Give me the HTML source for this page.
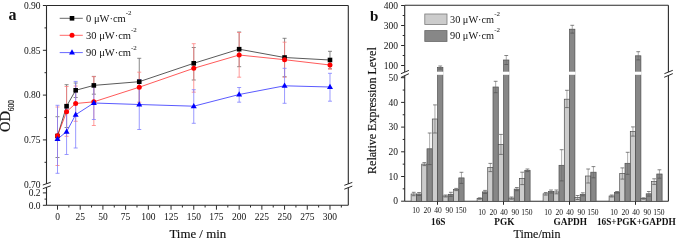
<!DOCTYPE html>
<html><head><meta charset="utf-8"><style>
html,body{margin:0;padding:0;background:#fff;}
body{width:676px;height:240px;overflow:hidden;}
svg{display:block;will-change:transform;}
text{font-family:"Liberation Serif", serif;fill:#111;}
.hv{stroke:#111;stroke-width:0.15px;}
</style></head><body>
<svg width="676" height="240" viewBox="0 0 676 240">
<rect width="676" height="240" fill="#fff"/>
<line x1="46.50" y1="5.50" x2="348.30" y2="5.50" stroke="#2a2a2a" stroke-width="1.1" />
<line x1="348.30" y1="5.50" x2="348.30" y2="183.90" stroke="#2a2a2a" stroke-width="1.1" />
<line x1="348.30" y1="187.60" x2="348.30" y2="205.30" stroke="#2a2a2a" stroke-width="1.1" />
<line x1="344.30" y1="185.30" x2="352.30" y2="182.40" stroke="#2a2a2a" stroke-width="1.0" />
<line x1="344.30" y1="189.20" x2="352.30" y2="186.10" stroke="#2a2a2a" stroke-width="1.0" />
<line x1="46.50" y1="205.30" x2="348.30" y2="205.30" stroke="#2a2a2a" stroke-width="1.1" />
<line x1="46.50" y1="5.50" x2="46.50" y2="183.90" stroke="#2a2a2a" stroke-width="1.1" />
<line x1="46.50" y1="187.40" x2="46.50" y2="205.30" stroke="#2a2a2a" stroke-width="1.1" />
<line x1="42.80" y1="185.00" x2="50.80" y2="182.25" stroke="#2a2a2a" stroke-width="1.0" />
<line x1="42.80" y1="188.70" x2="50.80" y2="185.80" stroke="#2a2a2a" stroke-width="1.0" />
<line x1="42.90" y1="5.50" x2="46.50" y2="5.50" stroke="#2a2a2a" stroke-width="1.0" />
<text x="40.60" y="8.70" font-size="9.5" text-anchor="end" font-weight="normal" >0.90</text>
<line x1="42.90" y1="50.30" x2="46.50" y2="50.30" stroke="#2a2a2a" stroke-width="1.0" />
<text x="40.60" y="53.50" font-size="9.5" text-anchor="end" font-weight="normal" >0.85</text>
<line x1="42.90" y1="95.10" x2="46.50" y2="95.10" stroke="#2a2a2a" stroke-width="1.0" />
<text x="40.60" y="98.30" font-size="9.5" text-anchor="end" font-weight="normal" >0.80</text>
<line x1="42.90" y1="139.90" x2="46.50" y2="139.90" stroke="#2a2a2a" stroke-width="1.0" />
<text x="40.60" y="143.10" font-size="9.5" text-anchor="end" font-weight="normal" >0.75</text>
<line x1="44.50" y1="27.90" x2="46.50" y2="27.90" stroke="#2a2a2a" stroke-width="1.0" />
<line x1="44.50" y1="72.70" x2="46.50" y2="72.70" stroke="#2a2a2a" stroke-width="1.0" />
<line x1="44.50" y1="117.50" x2="46.50" y2="117.50" stroke="#2a2a2a" stroke-width="1.0" />
<line x1="44.50" y1="162.30" x2="46.50" y2="162.30" stroke="#2a2a2a" stroke-width="1.0" />
<text x="40.60" y="187.60" font-size="9.5" text-anchor="end" font-weight="normal" >0.70</text>
<line x1="42.90" y1="205.30" x2="46.50" y2="205.30" stroke="#2a2a2a" stroke-width="1.0" />
<text x="40.60" y="208.50" font-size="9.5" text-anchor="end" font-weight="normal" >0.0</text>
<line x1="42.90" y1="192.90" x2="46.50" y2="192.90" stroke="#2a2a2a" stroke-width="1.0" />
<text x="40.60" y="196.10" font-size="9.5" text-anchor="end" font-weight="normal" >0.2</text>
<line x1="44.50" y1="199.10" x2="46.50" y2="199.10" stroke="#2a2a2a" stroke-width="1.0" />
<line x1="57.50" y1="205.30" x2="57.50" y2="209.70" stroke="#2a2a2a" stroke-width="1.0" />
<text x="57.50" y="219.60" font-size="9.5" text-anchor="middle" font-weight="normal" >0</text>
<line x1="80.21" y1="205.30" x2="80.21" y2="209.70" stroke="#2a2a2a" stroke-width="1.0" />
<text x="80.21" y="219.60" font-size="9.5" text-anchor="middle" font-weight="normal" >25</text>
<line x1="102.91" y1="205.30" x2="102.91" y2="209.70" stroke="#2a2a2a" stroke-width="1.0" />
<text x="102.91" y="219.60" font-size="9.5" text-anchor="middle" font-weight="normal" >50</text>
<line x1="125.62" y1="205.30" x2="125.62" y2="209.70" stroke="#2a2a2a" stroke-width="1.0" />
<text x="125.62" y="219.60" font-size="9.5" text-anchor="middle" font-weight="normal" >75</text>
<line x1="148.33" y1="205.30" x2="148.33" y2="209.70" stroke="#2a2a2a" stroke-width="1.0" />
<text x="148.33" y="219.60" font-size="9.5" text-anchor="middle" font-weight="normal" >100</text>
<line x1="171.04" y1="205.30" x2="171.04" y2="209.70" stroke="#2a2a2a" stroke-width="1.0" />
<text x="171.04" y="219.60" font-size="9.5" text-anchor="middle" font-weight="normal" >125</text>
<line x1="193.75" y1="205.30" x2="193.75" y2="209.70" stroke="#2a2a2a" stroke-width="1.0" />
<text x="193.75" y="219.60" font-size="9.5" text-anchor="middle" font-weight="normal" >150</text>
<line x1="216.45" y1="205.30" x2="216.45" y2="209.70" stroke="#2a2a2a" stroke-width="1.0" />
<text x="216.45" y="219.60" font-size="9.5" text-anchor="middle" font-weight="normal" >175</text>
<line x1="239.16" y1="205.30" x2="239.16" y2="209.70" stroke="#2a2a2a" stroke-width="1.0" />
<text x="239.16" y="219.60" font-size="9.5" text-anchor="middle" font-weight="normal" >200</text>
<line x1="261.87" y1="205.30" x2="261.87" y2="209.70" stroke="#2a2a2a" stroke-width="1.0" />
<text x="261.87" y="219.60" font-size="9.5" text-anchor="middle" font-weight="normal" >225</text>
<line x1="284.57" y1="205.30" x2="284.57" y2="209.70" stroke="#2a2a2a" stroke-width="1.0" />
<text x="284.57" y="219.60" font-size="9.5" text-anchor="middle" font-weight="normal" >250</text>
<line x1="307.28" y1="205.30" x2="307.28" y2="209.70" stroke="#2a2a2a" stroke-width="1.0" />
<text x="307.28" y="219.60" font-size="9.5" text-anchor="middle" font-weight="normal" >275</text>
<line x1="329.99" y1="205.30" x2="329.99" y2="209.70" stroke="#2a2a2a" stroke-width="1.0" />
<text x="329.99" y="219.60" font-size="9.5" text-anchor="middle" font-weight="normal" >300</text>
<line x1="68.85" y1="205.30" x2="68.85" y2="207.50" stroke="#2a2a2a" stroke-width="1.0" />
<line x1="91.56" y1="205.30" x2="91.56" y2="207.50" stroke="#2a2a2a" stroke-width="1.0" />
<line x1="114.27" y1="205.30" x2="114.27" y2="207.50" stroke="#2a2a2a" stroke-width="1.0" />
<line x1="136.98" y1="205.30" x2="136.98" y2="207.50" stroke="#2a2a2a" stroke-width="1.0" />
<line x1="159.68" y1="205.30" x2="159.68" y2="207.50" stroke="#2a2a2a" stroke-width="1.0" />
<line x1="182.39" y1="205.30" x2="182.39" y2="207.50" stroke="#2a2a2a" stroke-width="1.0" />
<line x1="205.10" y1="205.30" x2="205.10" y2="207.50" stroke="#2a2a2a" stroke-width="1.0" />
<line x1="227.81" y1="205.30" x2="227.81" y2="207.50" stroke="#2a2a2a" stroke-width="1.0" />
<line x1="250.51" y1="205.30" x2="250.51" y2="207.50" stroke="#2a2a2a" stroke-width="1.0" />
<line x1="273.22" y1="205.30" x2="273.22" y2="207.50" stroke="#2a2a2a" stroke-width="1.0" />
<line x1="295.93" y1="205.30" x2="295.93" y2="207.50" stroke="#2a2a2a" stroke-width="1.0" />
<line x1="318.64" y1="205.30" x2="318.64" y2="207.50" stroke="#2a2a2a" stroke-width="1.0" />
<line x1="341.34" y1="205.30" x2="341.34" y2="207.50" stroke="#2a2a2a" stroke-width="1.0" />
<text x="197.80" y="238.30" font-size="12.9" text-anchor="middle" font-weight="normal" class="hv">Time / min</text>
<g transform="translate(9.8,116.0) rotate(-90)">
<text x="0" y="0" font-size="14.5" text-anchor="middle" class="hv">OD<tspan font-size="7.5" dy="4.3">600</tspan></text>
</g>
<text x="8.60" y="20.20" font-size="16" text-anchor="start" font-weight="bold" >a</text>
<line x1="59.70" y1="18.30" x2="82.80" y2="18.30" stroke="#000" stroke-width="0.6" />
<rect x="69.70" y="16.00" width="4.6" height="4.6" fill="#000"/>
<text x="86" y="22.10" font-size="10.5">0 &#956;W&#183;cm<tspan font-size="7" dy="-6.8">-2</tspan></text>
<line x1="59.70" y1="35.30" x2="82.80" y2="35.30" stroke="#ff0000" stroke-width="0.6" />
<circle cx="72.00" cy="35.30" r="2.5" fill="#ff0000"/>
<text x="86" y="39.10" font-size="10.5">30 &#956;W&#183;cm<tspan font-size="7" dy="-6.8">-2</tspan></text>
<line x1="59.70" y1="52.60" x2="82.80" y2="52.60" stroke="#0000ff" stroke-width="0.6" />
<path d="M69.00,54.60 L75.00,54.60 L72.00,49.30 Z" fill="#0000ff"/>
<text x="86" y="56.40" font-size="10.5">90 &#956;W&#183;cm<tspan font-size="7" dy="-6.8">-2</tspan></text>
<line x1="57.50" y1="116.70" x2="57.50" y2="157.50" stroke="#6a6a6a" stroke-width="0.8" />
<line x1="55.50" y1="116.70" x2="59.50" y2="116.70" stroke="#6a6a6a" stroke-width="0.8" />
<line x1="55.50" y1="157.50" x2="59.50" y2="157.50" stroke="#6a6a6a" stroke-width="0.8" />
<line x1="66.58" y1="84.70" x2="66.58" y2="127.50" stroke="#6a6a6a" stroke-width="0.8" />
<line x1="64.58" y1="84.70" x2="68.58" y2="84.70" stroke="#6a6a6a" stroke-width="0.8" />
<line x1="64.58" y1="127.50" x2="68.58" y2="127.50" stroke="#6a6a6a" stroke-width="0.8" />
<line x1="75.67" y1="83.00" x2="75.67" y2="97.50" stroke="#6a6a6a" stroke-width="0.8" />
<line x1="73.67" y1="83.00" x2="77.67" y2="83.00" stroke="#6a6a6a" stroke-width="0.8" />
<line x1="73.67" y1="97.50" x2="77.67" y2="97.50" stroke="#6a6a6a" stroke-width="0.8" />
<line x1="93.83" y1="76.40" x2="93.83" y2="94.20" stroke="#6a6a6a" stroke-width="0.8" />
<line x1="91.83" y1="76.40" x2="95.83" y2="76.40" stroke="#6a6a6a" stroke-width="0.8" />
<line x1="91.83" y1="94.20" x2="95.83" y2="94.20" stroke="#6a6a6a" stroke-width="0.8" />
<line x1="139.25" y1="58.30" x2="139.25" y2="105.00" stroke="#6a6a6a" stroke-width="0.8" />
<line x1="137.25" y1="58.30" x2="141.25" y2="58.30" stroke="#6a6a6a" stroke-width="0.8" />
<line x1="137.25" y1="105.00" x2="141.25" y2="105.00" stroke="#6a6a6a" stroke-width="0.8" />
<line x1="193.75" y1="47.50" x2="193.75" y2="80.00" stroke="#6a6a6a" stroke-width="0.8" />
<line x1="191.75" y1="47.50" x2="195.75" y2="47.50" stroke="#6a6a6a" stroke-width="0.8" />
<line x1="191.75" y1="80.00" x2="195.75" y2="80.00" stroke="#6a6a6a" stroke-width="0.8" />
<line x1="239.16" y1="32.00" x2="239.16" y2="66.70" stroke="#6a6a6a" stroke-width="0.8" />
<line x1="237.16" y1="32.00" x2="241.16" y2="32.00" stroke="#6a6a6a" stroke-width="0.8" />
<line x1="237.16" y1="66.70" x2="241.16" y2="66.70" stroke="#6a6a6a" stroke-width="0.8" />
<line x1="284.57" y1="38.30" x2="284.57" y2="76.70" stroke="#6a6a6a" stroke-width="0.8" />
<line x1="282.57" y1="38.30" x2="286.57" y2="38.30" stroke="#6a6a6a" stroke-width="0.8" />
<line x1="282.57" y1="76.70" x2="286.57" y2="76.70" stroke="#6a6a6a" stroke-width="0.8" />
<line x1="329.99" y1="51.30" x2="329.99" y2="68.70" stroke="#6a6a6a" stroke-width="0.8" />
<line x1="327.99" y1="51.30" x2="331.99" y2="51.30" stroke="#6a6a6a" stroke-width="0.8" />
<line x1="327.99" y1="68.70" x2="331.99" y2="68.70" stroke="#6a6a6a" stroke-width="0.8" />
<line x1="57.50" y1="107.00" x2="57.50" y2="165.50" stroke="#ff8080" stroke-width="0.8" />
<line x1="55.50" y1="107.00" x2="59.50" y2="107.00" stroke="#ff8080" stroke-width="0.8" />
<line x1="55.50" y1="165.50" x2="59.50" y2="165.50" stroke="#ff8080" stroke-width="0.8" />
<line x1="66.58" y1="86.50" x2="66.58" y2="136.30" stroke="#ff8080" stroke-width="0.8" />
<line x1="64.58" y1="86.50" x2="68.58" y2="86.50" stroke="#ff8080" stroke-width="0.8" />
<line x1="64.58" y1="136.30" x2="68.58" y2="136.30" stroke="#ff8080" stroke-width="0.8" />
<line x1="75.67" y1="86.00" x2="75.67" y2="121.30" stroke="#ff8080" stroke-width="0.8" />
<line x1="73.67" y1="86.00" x2="77.67" y2="86.00" stroke="#ff8080" stroke-width="0.8" />
<line x1="73.67" y1="121.30" x2="77.67" y2="121.30" stroke="#ff8080" stroke-width="0.8" />
<line x1="93.83" y1="76.70" x2="93.83" y2="125.50" stroke="#ff8080" stroke-width="0.8" />
<line x1="91.83" y1="76.70" x2="95.83" y2="76.70" stroke="#ff8080" stroke-width="0.8" />
<line x1="91.83" y1="125.50" x2="95.83" y2="125.50" stroke="#ff8080" stroke-width="0.8" />
<line x1="139.25" y1="72.20" x2="139.25" y2="102.20" stroke="#ff8080" stroke-width="0.8" />
<line x1="137.25" y1="72.20" x2="141.25" y2="72.20" stroke="#ff8080" stroke-width="0.8" />
<line x1="137.25" y1="102.20" x2="141.25" y2="102.20" stroke="#ff8080" stroke-width="0.8" />
<line x1="193.75" y1="43.70" x2="193.75" y2="92.20" stroke="#ff8080" stroke-width="0.8" />
<line x1="191.75" y1="43.70" x2="195.75" y2="43.70" stroke="#ff8080" stroke-width="0.8" />
<line x1="191.75" y1="92.20" x2="195.75" y2="92.20" stroke="#ff8080" stroke-width="0.8" />
<line x1="239.16" y1="32.50" x2="239.16" y2="77.20" stroke="#ff8080" stroke-width="0.8" />
<line x1="237.16" y1="32.50" x2="241.16" y2="32.50" stroke="#ff8080" stroke-width="0.8" />
<line x1="237.16" y1="77.20" x2="241.16" y2="77.20" stroke="#ff8080" stroke-width="0.8" />
<line x1="284.57" y1="42.20" x2="284.57" y2="77.20" stroke="#ff8080" stroke-width="0.8" />
<line x1="282.57" y1="42.20" x2="286.57" y2="42.20" stroke="#ff8080" stroke-width="0.8" />
<line x1="282.57" y1="77.20" x2="286.57" y2="77.20" stroke="#ff8080" stroke-width="0.8" />
<line x1="329.99" y1="60.80" x2="329.99" y2="69.20" stroke="#ff8080" stroke-width="0.8" />
<line x1="327.99" y1="60.80" x2="331.99" y2="60.80" stroke="#ff8080" stroke-width="0.8" />
<line x1="327.99" y1="69.20" x2="331.99" y2="69.20" stroke="#ff8080" stroke-width="0.8" />
<line x1="57.50" y1="105.30" x2="57.50" y2="173.30" stroke="#8080ff" stroke-width="0.8" />
<line x1="55.50" y1="105.30" x2="59.50" y2="105.30" stroke="#8080ff" stroke-width="0.8" />
<line x1="55.50" y1="173.30" x2="59.50" y2="173.30" stroke="#8080ff" stroke-width="0.8" />
<line x1="66.58" y1="109.00" x2="66.58" y2="154.50" stroke="#8080ff" stroke-width="0.8" />
<line x1="64.58" y1="109.00" x2="68.58" y2="109.00" stroke="#8080ff" stroke-width="0.8" />
<line x1="64.58" y1="154.50" x2="68.58" y2="154.50" stroke="#8080ff" stroke-width="0.8" />
<line x1="75.67" y1="81.40" x2="75.67" y2="148.00" stroke="#8080ff" stroke-width="0.8" />
<line x1="73.67" y1="81.40" x2="77.67" y2="81.40" stroke="#8080ff" stroke-width="0.8" />
<line x1="73.67" y1="148.00" x2="77.67" y2="148.00" stroke="#8080ff" stroke-width="0.8" />
<line x1="93.83" y1="86.50" x2="93.83" y2="119.50" stroke="#8080ff" stroke-width="0.8" />
<line x1="91.83" y1="86.50" x2="95.83" y2="86.50" stroke="#8080ff" stroke-width="0.8" />
<line x1="91.83" y1="119.50" x2="95.83" y2="119.50" stroke="#8080ff" stroke-width="0.8" />
<line x1="139.25" y1="79.50" x2="139.25" y2="129.50" stroke="#8080ff" stroke-width="0.8" />
<line x1="137.25" y1="79.50" x2="141.25" y2="79.50" stroke="#8080ff" stroke-width="0.8" />
<line x1="137.25" y1="129.50" x2="141.25" y2="129.50" stroke="#8080ff" stroke-width="0.8" />
<line x1="193.75" y1="89.70" x2="193.75" y2="123.30" stroke="#8080ff" stroke-width="0.8" />
<line x1="191.75" y1="89.70" x2="195.75" y2="89.70" stroke="#8080ff" stroke-width="0.8" />
<line x1="191.75" y1="123.30" x2="195.75" y2="123.30" stroke="#8080ff" stroke-width="0.8" />
<line x1="239.16" y1="87.50" x2="239.16" y2="102.20" stroke="#8080ff" stroke-width="0.8" />
<line x1="237.16" y1="87.50" x2="241.16" y2="87.50" stroke="#8080ff" stroke-width="0.8" />
<line x1="237.16" y1="102.20" x2="241.16" y2="102.20" stroke="#8080ff" stroke-width="0.8" />
<line x1="284.57" y1="68.30" x2="284.57" y2="103.30" stroke="#8080ff" stroke-width="0.8" />
<line x1="282.57" y1="68.30" x2="286.57" y2="68.30" stroke="#8080ff" stroke-width="0.8" />
<line x1="282.57" y1="103.30" x2="286.57" y2="103.30" stroke="#8080ff" stroke-width="0.8" />
<line x1="329.99" y1="73.30" x2="329.99" y2="101.20" stroke="#8080ff" stroke-width="0.8" />
<line x1="327.99" y1="73.30" x2="331.99" y2="73.30" stroke="#8080ff" stroke-width="0.8" />
<line x1="327.99" y1="101.20" x2="331.99" y2="101.20" stroke="#8080ff" stroke-width="0.8" />
<polyline points="57.50,136.00 66.58,106.20 75.67,90.30 93.83,85.40 139.25,81.70 193.75,63.30 239.16,49.20 284.57,57.50 329.99,60.00" fill="none" stroke="#000000" stroke-width="0.65"/>
<rect x="55.20" y="133.70" width="4.6" height="4.6" fill="#000000"/>
<rect x="64.28" y="103.90" width="4.6" height="4.6" fill="#000000"/>
<rect x="73.37" y="88.00" width="4.6" height="4.6" fill="#000000"/>
<rect x="91.53" y="83.10" width="4.6" height="4.6" fill="#000000"/>
<rect x="136.95" y="79.40" width="4.6" height="4.6" fill="#000000"/>
<rect x="191.44" y="61.00" width="4.6" height="4.6" fill="#000000"/>
<rect x="236.86" y="46.90" width="4.6" height="4.6" fill="#000000"/>
<rect x="282.27" y="55.20" width="4.6" height="4.6" fill="#000000"/>
<rect x="327.69" y="57.70" width="4.6" height="4.6" fill="#000000"/>
<polyline points="57.50,135.80 66.58,111.70 75.67,103.50 93.83,101.80 139.25,87.20 193.75,68.30 239.16,55.00 284.57,59.70 329.99,65.00" fill="none" stroke="#ff0000" stroke-width="0.65"/>
<circle cx="57.50" cy="135.80" r="2.5" fill="#ff0000"/>
<circle cx="66.58" cy="111.70" r="2.5" fill="#ff0000"/>
<circle cx="75.67" cy="103.50" r="2.5" fill="#ff0000"/>
<circle cx="93.83" cy="101.80" r="2.5" fill="#ff0000"/>
<circle cx="139.25" cy="87.20" r="2.5" fill="#ff0000"/>
<circle cx="193.75" cy="68.30" r="2.5" fill="#ff0000"/>
<circle cx="239.16" cy="55.00" r="2.5" fill="#ff0000"/>
<circle cx="284.57" cy="59.70" r="2.5" fill="#ff0000"/>
<circle cx="329.99" cy="65.00" r="2.5" fill="#ff0000"/>
<polyline points="57.50,139.00 66.58,131.70 75.67,114.70 93.83,103.00 139.25,104.50 193.75,106.20 239.16,94.50 284.57,85.80 329.99,87.00" fill="none" stroke="#0000ff" stroke-width="0.65"/>
<path d="M54.50,141.00 L60.50,141.00 L57.50,135.70 Z" fill="#0000ff"/>
<path d="M63.58,133.70 L69.58,133.70 L66.58,128.40 Z" fill="#0000ff"/>
<path d="M72.67,116.70 L78.67,116.70 L75.67,111.40 Z" fill="#0000ff"/>
<path d="M90.83,105.00 L96.83,105.00 L93.83,99.70 Z" fill="#0000ff"/>
<path d="M136.25,106.50 L142.25,106.50 L139.25,101.20 Z" fill="#0000ff"/>
<path d="M190.75,108.20 L196.75,108.20 L193.75,102.90 Z" fill="#0000ff"/>
<path d="M236.16,96.50 L242.16,96.50 L239.16,91.20 Z" fill="#0000ff"/>
<path d="M281.57,87.80 L287.57,87.80 L284.57,82.50 Z" fill="#0000ff"/>
<path d="M326.99,89.00 L332.99,89.00 L329.99,83.70 Z" fill="#0000ff"/>
<line x1="404.70" y1="5.30" x2="668.40" y2="5.30" stroke="#2a2a2a" stroke-width="1.1" />
<line x1="404.70" y1="201.30" x2="668.40" y2="201.30" stroke="#2a2a2a" stroke-width="1.1" />
<line x1="404.70" y1="5.30" x2="404.70" y2="72.00" stroke="#2a2a2a" stroke-width="1.1" />
<line x1="404.70" y1="75.60" x2="404.70" y2="201.30" stroke="#2a2a2a" stroke-width="1.1" />
<line x1="400.90" y1="73.70" x2="408.90" y2="70.40" stroke="#2a2a2a" stroke-width="1.0" />
<line x1="400.90" y1="77.50" x2="408.90" y2="73.70" stroke="#2a2a2a" stroke-width="1.0" />
<line x1="668.40" y1="5.30" x2="668.40" y2="72.00" stroke="#2a2a2a" stroke-width="1.1" />
<line x1="668.40" y1="75.60" x2="668.40" y2="201.30" stroke="#2a2a2a" stroke-width="1.1" />
<line x1="664.40" y1="73.70" x2="672.80" y2="70.30" stroke="#2a2a2a" stroke-width="1.0" />
<line x1="664.20" y1="77.30" x2="672.80" y2="73.60" stroke="#2a2a2a" stroke-width="1.0" />
<line x1="401.10" y1="65.50" x2="404.70" y2="65.50" stroke="#2a2a2a" stroke-width="1.0" />
<text x="398.00" y="68.70" font-size="9.5" text-anchor="end" font-weight="normal" >100</text>
<line x1="401.10" y1="45.50" x2="404.70" y2="45.50" stroke="#2a2a2a" stroke-width="1.0" />
<text x="398.00" y="48.70" font-size="9.5" text-anchor="end" font-weight="normal" >200</text>
<line x1="401.10" y1="25.50" x2="404.70" y2="25.50" stroke="#2a2a2a" stroke-width="1.0" />
<text x="398.00" y="28.70" font-size="9.5" text-anchor="end" font-weight="normal" >300</text>
<line x1="401.10" y1="5.50" x2="404.70" y2="5.50" stroke="#2a2a2a" stroke-width="1.0" />
<text x="398.00" y="8.70" font-size="9.5" text-anchor="end" font-weight="normal" >400</text>
<line x1="402.70" y1="55.50" x2="404.70" y2="55.50" stroke="#2a2a2a" stroke-width="1.0" />
<line x1="402.70" y1="35.50" x2="404.70" y2="35.50" stroke="#2a2a2a" stroke-width="1.0" />
<line x1="402.70" y1="15.50" x2="404.70" y2="15.50" stroke="#2a2a2a" stroke-width="1.0" />
<line x1="401.10" y1="201.20" x2="404.70" y2="201.20" stroke="#2a2a2a" stroke-width="1.0" />
<text x="398.00" y="204.40" font-size="9.5" text-anchor="end" font-weight="normal" >0</text>
<line x1="401.10" y1="176.50" x2="404.70" y2="176.50" stroke="#2a2a2a" stroke-width="1.0" />
<text x="398.00" y="179.70" font-size="9.5" text-anchor="end" font-weight="normal" >10</text>
<line x1="401.10" y1="151.80" x2="404.70" y2="151.80" stroke="#2a2a2a" stroke-width="1.0" />
<text x="398.00" y="155.00" font-size="9.5" text-anchor="end" font-weight="normal" >20</text>
<line x1="401.10" y1="127.10" x2="404.70" y2="127.10" stroke="#2a2a2a" stroke-width="1.0" />
<text x="398.00" y="130.30" font-size="9.5" text-anchor="end" font-weight="normal" >30</text>
<line x1="401.10" y1="102.40" x2="404.70" y2="102.40" stroke="#2a2a2a" stroke-width="1.0" />
<text x="398.00" y="105.60" font-size="9.5" text-anchor="end" font-weight="normal" >40</text>
<line x1="401.10" y1="77.70" x2="404.70" y2="77.70" stroke="#2a2a2a" stroke-width="1.0" />
<text x="398.00" y="80.90" font-size="9.5" text-anchor="end" font-weight="normal" >50</text>
<line x1="402.70" y1="188.85" x2="404.70" y2="188.85" stroke="#2a2a2a" stroke-width="1.0" />
<line x1="402.70" y1="164.15" x2="404.70" y2="164.15" stroke="#2a2a2a" stroke-width="1.0" />
<line x1="402.70" y1="139.45" x2="404.70" y2="139.45" stroke="#2a2a2a" stroke-width="1.0" />
<line x1="402.70" y1="114.75" x2="404.70" y2="114.75" stroke="#2a2a2a" stroke-width="1.0" />
<line x1="402.70" y1="90.05" x2="404.70" y2="90.05" stroke="#2a2a2a" stroke-width="1.0" />
<text x="378.30" y="20.60" font-size="15" text-anchor="end" font-weight="bold" >b</text>
<g transform="translate(376.2,110.6) rotate(-90)">
<text x="0" y="0" font-size="12" text-anchor="middle" class="hv">Relative Expression Level</text>
</g>
<rect x="424.8" y="14.0" width="22.2" height="10.4" fill="#cccccc" stroke="#7a7a7a" stroke-width="0.8"/>
<rect x="424.8" y="30.6" width="22.2" height="10.8" fill="#878787" stroke="#666" stroke-width="0.8"/>
<text x="450" y="22.6" font-size="10.3">30 &#956;W&#183;cm<tspan font-size="7" dy="-6.8">-2</tspan></text>
<text x="450" y="38.6" font-size="10.3">90 &#956;W&#183;cm<tspan font-size="7" dy="-6.8">-2</tspan></text>
<rect x="411.10" y="194.00" width="5.3" height="7.30" fill="#cccccc" stroke="#4d4d4d" stroke-width="0.7"/>
<line x1="413.75" y1="192.30" x2="413.75" y2="195.70" stroke="#666" stroke-width="0.55" />
<line x1="411.85" y1="192.30" x2="415.65" y2="192.30" stroke="#505050" stroke-width="0.7" />
<line x1="411.85" y1="195.70" x2="415.65" y2="195.70" stroke="#505050" stroke-width="0.7" />
<rect x="416.40" y="194.00" width="5.3" height="7.30" fill="#878787" stroke="#4d4d4d" stroke-width="0.7"/>
<line x1="419.05" y1="192.50" x2="419.05" y2="195.50" stroke="#666" stroke-width="0.55" />
<line x1="417.15" y1="192.50" x2="420.95" y2="192.50" stroke="#505050" stroke-width="0.7" />
<line x1="417.15" y1="195.50" x2="420.95" y2="195.50" stroke="#505050" stroke-width="0.7" />
<rect x="421.70" y="164.10" width="5.3" height="37.20" fill="#cccccc" stroke="#4d4d4d" stroke-width="0.7"/>
<line x1="424.35" y1="162.60" x2="424.35" y2="165.60" stroke="#666" stroke-width="0.55" />
<line x1="422.45" y1="162.60" x2="426.25" y2="162.60" stroke="#505050" stroke-width="0.7" />
<line x1="422.45" y1="165.60" x2="426.25" y2="165.60" stroke="#505050" stroke-width="0.7" />
<rect x="427.00" y="148.80" width="5.3" height="52.50" fill="#878787" stroke="#4d4d4d" stroke-width="0.7"/>
<line x1="429.65" y1="133.00" x2="429.65" y2="164.60" stroke="#666" stroke-width="0.55" />
<line x1="427.75" y1="133.00" x2="431.55" y2="133.00" stroke="#505050" stroke-width="0.7" />
<line x1="427.75" y1="164.60" x2="431.55" y2="164.60" stroke="#505050" stroke-width="0.7" />
<rect x="432.30" y="119.00" width="5.3" height="82.30" fill="#cccccc" stroke="#4d4d4d" stroke-width="0.7"/>
<line x1="434.95" y1="104.90" x2="434.95" y2="133.00" stroke="#666" stroke-width="0.55" />
<line x1="433.05" y1="104.90" x2="436.85" y2="104.90" stroke="#505050" stroke-width="0.7" />
<line x1="433.05" y1="133.00" x2="436.85" y2="133.00" stroke="#505050" stroke-width="0.7" />
<rect x="437.60" y="67.50" width="5.3" height="133.80" fill="#878787" stroke="#4d4d4d" stroke-width="0.7"/>
<line x1="440.25" y1="66.00" x2="440.25" y2="69.00" stroke="#666" stroke-width="0.55" />
<line x1="438.35" y1="66.00" x2="442.15" y2="66.00" stroke="#505050" stroke-width="0.7" />
<line x1="438.35" y1="69.00" x2="442.15" y2="69.00" stroke="#505050" stroke-width="0.7" />
<rect x="437.00" y="71.7" width="6.50" height="3.1" fill="#fff"/>
<rect x="442.90" y="196.00" width="5.3" height="5.30" fill="#cccccc" stroke="#4d4d4d" stroke-width="0.7"/>
<line x1="445.55" y1="195.00" x2="445.55" y2="197.00" stroke="#666" stroke-width="0.55" />
<line x1="443.65" y1="195.00" x2="447.45" y2="195.00" stroke="#505050" stroke-width="0.7" />
<line x1="443.65" y1="197.00" x2="447.45" y2="197.00" stroke="#505050" stroke-width="0.7" />
<rect x="448.20" y="194.30" width="5.3" height="7.00" fill="#878787" stroke="#4d4d4d" stroke-width="0.7"/>
<line x1="450.85" y1="192.30" x2="450.85" y2="196.30" stroke="#666" stroke-width="0.55" />
<line x1="448.95" y1="192.30" x2="452.75" y2="192.30" stroke="#505050" stroke-width="0.7" />
<line x1="448.95" y1="196.30" x2="452.75" y2="196.30" stroke="#505050" stroke-width="0.7" />
<rect x="453.50" y="189.50" width="5.3" height="11.80" fill="#cccccc" stroke="#4d4d4d" stroke-width="0.7"/>
<line x1="456.15" y1="188.40" x2="456.15" y2="190.60" stroke="#666" stroke-width="0.55" />
<line x1="454.25" y1="188.40" x2="458.05" y2="188.40" stroke="#505050" stroke-width="0.7" />
<line x1="454.25" y1="190.60" x2="458.05" y2="190.60" stroke="#505050" stroke-width="0.7" />
<rect x="458.80" y="177.90" width="5.3" height="23.40" fill="#878787" stroke="#4d4d4d" stroke-width="0.7"/>
<line x1="461.45" y1="172.30" x2="461.45" y2="183.40" stroke="#666" stroke-width="0.55" />
<line x1="459.55" y1="172.30" x2="463.35" y2="172.30" stroke="#505050" stroke-width="0.7" />
<line x1="459.55" y1="183.40" x2="463.35" y2="183.40" stroke="#505050" stroke-width="0.7" />
<text x="416.00" y="213.40" font-size="7.5" text-anchor="middle" font-weight="normal" >10</text>
<text x="427.20" y="213.40" font-size="7.5" text-anchor="middle" font-weight="normal" >20</text>
<text x="438.00" y="213.40" font-size="7.5" text-anchor="middle" font-weight="normal" >40</text>
<text x="449.20" y="213.40" font-size="7.5" text-anchor="middle" font-weight="normal" >90</text>
<text x="460.90" y="213.40" font-size="7.5" text-anchor="middle" font-weight="normal" >150</text>
<line x1="437.50" y1="201.30" x2="437.50" y2="204.80" stroke="#2a2a2a" stroke-width="1.0" />
<text x="438.30" y="224.60" font-size="9.3" text-anchor="middle" font-weight="bold" >16S</text>
<rect x="477.10" y="198.50" width="5.3" height="2.80" fill="#cccccc" stroke="#4d4d4d" stroke-width="0.7"/>
<line x1="479.75" y1="197.80" x2="479.75" y2="199.20" stroke="#666" stroke-width="0.55" />
<line x1="477.85" y1="197.80" x2="481.65" y2="197.80" stroke="#505050" stroke-width="0.7" />
<line x1="477.85" y1="199.20" x2="481.65" y2="199.20" stroke="#505050" stroke-width="0.7" />
<rect x="482.40" y="191.90" width="5.3" height="9.40" fill="#878787" stroke="#4d4d4d" stroke-width="0.7"/>
<line x1="485.05" y1="190.40" x2="485.05" y2="193.40" stroke="#666" stroke-width="0.55" />
<line x1="483.15" y1="190.40" x2="486.95" y2="190.40" stroke="#505050" stroke-width="0.7" />
<line x1="483.15" y1="193.40" x2="486.95" y2="193.40" stroke="#505050" stroke-width="0.7" />
<rect x="487.70" y="167.50" width="5.3" height="33.80" fill="#cccccc" stroke="#4d4d4d" stroke-width="0.7"/>
<line x1="490.35" y1="163.40" x2="490.35" y2="171.60" stroke="#666" stroke-width="0.55" />
<line x1="488.45" y1="163.40" x2="492.25" y2="163.40" stroke="#505050" stroke-width="0.7" />
<line x1="488.45" y1="171.60" x2="492.25" y2="171.60" stroke="#505050" stroke-width="0.7" />
<rect x="493.00" y="87.00" width="5.3" height="114.30" fill="#878787" stroke="#4d4d4d" stroke-width="0.7"/>
<line x1="495.65" y1="81.30" x2="495.65" y2="92.70" stroke="#666" stroke-width="0.55" />
<line x1="493.75" y1="81.30" x2="497.55" y2="81.30" stroke="#505050" stroke-width="0.7" />
<line x1="493.75" y1="92.70" x2="497.55" y2="92.70" stroke="#505050" stroke-width="0.7" />
<rect x="498.30" y="144.40" width="5.3" height="56.90" fill="#cccccc" stroke="#4d4d4d" stroke-width="0.7"/>
<line x1="500.95" y1="134.40" x2="500.95" y2="154.40" stroke="#666" stroke-width="0.55" />
<line x1="499.05" y1="134.40" x2="502.85" y2="134.40" stroke="#505050" stroke-width="0.7" />
<line x1="499.05" y1="154.40" x2="502.85" y2="154.40" stroke="#505050" stroke-width="0.7" />
<rect x="503.60" y="60.00" width="5.3" height="141.30" fill="#878787" stroke="#4d4d4d" stroke-width="0.7"/>
<line x1="506.25" y1="55.50" x2="506.25" y2="64.50" stroke="#666" stroke-width="0.55" />
<line x1="504.35" y1="55.50" x2="508.15" y2="55.50" stroke="#505050" stroke-width="0.7" />
<line x1="504.35" y1="64.50" x2="508.15" y2="64.50" stroke="#505050" stroke-width="0.7" />
<rect x="503.00" y="71.7" width="6.50" height="3.1" fill="#fff"/>
<rect x="508.90" y="198.10" width="5.3" height="3.20" fill="#cccccc" stroke="#4d4d4d" stroke-width="0.7"/>
<line x1="511.55" y1="197.00" x2="511.55" y2="199.20" stroke="#666" stroke-width="0.55" />
<line x1="509.65" y1="197.00" x2="513.45" y2="197.00" stroke="#505050" stroke-width="0.7" />
<line x1="509.65" y1="199.20" x2="513.45" y2="199.20" stroke="#505050" stroke-width="0.7" />
<rect x="514.20" y="189.10" width="5.3" height="12.20" fill="#878787" stroke="#4d4d4d" stroke-width="0.7"/>
<line x1="516.85" y1="187.50" x2="516.85" y2="190.70" stroke="#666" stroke-width="0.55" />
<line x1="514.95" y1="187.50" x2="518.75" y2="187.50" stroke="#505050" stroke-width="0.7" />
<line x1="514.95" y1="190.70" x2="518.75" y2="190.70" stroke="#505050" stroke-width="0.7" />
<rect x="519.50" y="178.40" width="5.3" height="22.90" fill="#cccccc" stroke="#4d4d4d" stroke-width="0.7"/>
<line x1="522.15" y1="172.20" x2="522.15" y2="184.60" stroke="#666" stroke-width="0.55" />
<line x1="520.25" y1="172.20" x2="524.05" y2="172.20" stroke="#505050" stroke-width="0.7" />
<line x1="520.25" y1="184.60" x2="524.05" y2="184.60" stroke="#505050" stroke-width="0.7" />
<rect x="524.80" y="170.30" width="5.3" height="31.00" fill="#878787" stroke="#4d4d4d" stroke-width="0.7"/>
<line x1="527.45" y1="169.00" x2="527.45" y2="171.60" stroke="#666" stroke-width="0.55" />
<line x1="525.55" y1="169.00" x2="529.35" y2="169.00" stroke="#505050" stroke-width="0.7" />
<line x1="525.55" y1="171.60" x2="529.35" y2="171.60" stroke="#505050" stroke-width="0.7" />
<text x="482.00" y="215.00" font-size="7.5" text-anchor="middle" font-weight="normal" >10</text>
<text x="493.20" y="215.00" font-size="7.5" text-anchor="middle" font-weight="normal" >20</text>
<text x="504.00" y="215.00" font-size="7.5" text-anchor="middle" font-weight="normal" >40</text>
<text x="515.20" y="215.00" font-size="7.5" text-anchor="middle" font-weight="normal" >90</text>
<text x="526.90" y="215.00" font-size="7.5" text-anchor="middle" font-weight="normal" >150</text>
<line x1="503.50" y1="201.30" x2="503.50" y2="204.80" stroke="#2a2a2a" stroke-width="1.0" />
<text x="504.30" y="224.60" font-size="9.3" text-anchor="middle" font-weight="bold" >PGK</text>
<rect x="543.10" y="193.80" width="5.3" height="7.50" fill="#cccccc" stroke="#4d4d4d" stroke-width="0.7"/>
<line x1="545.75" y1="192.50" x2="545.75" y2="195.10" stroke="#666" stroke-width="0.55" />
<line x1="543.85" y1="192.50" x2="547.65" y2="192.50" stroke="#505050" stroke-width="0.7" />
<line x1="543.85" y1="195.10" x2="547.65" y2="195.10" stroke="#505050" stroke-width="0.7" />
<rect x="548.40" y="191.50" width="5.3" height="9.80" fill="#878787" stroke="#4d4d4d" stroke-width="0.7"/>
<line x1="551.05" y1="190.00" x2="551.05" y2="193.00" stroke="#666" stroke-width="0.55" />
<line x1="549.15" y1="190.00" x2="552.95" y2="190.00" stroke="#505050" stroke-width="0.7" />
<line x1="549.15" y1="193.00" x2="552.95" y2="193.00" stroke="#505050" stroke-width="0.7" />
<rect x="553.70" y="191.90" width="5.3" height="9.40" fill="#cccccc" stroke="#4d4d4d" stroke-width="0.7"/>
<line x1="556.35" y1="190.00" x2="556.35" y2="193.80" stroke="#666" stroke-width="0.55" />
<line x1="554.45" y1="190.00" x2="558.25" y2="190.00" stroke="#505050" stroke-width="0.7" />
<line x1="554.45" y1="193.80" x2="558.25" y2="193.80" stroke="#505050" stroke-width="0.7" />
<rect x="559.00" y="165.30" width="5.3" height="36.00" fill="#878787" stroke="#4d4d4d" stroke-width="0.7"/>
<line x1="561.65" y1="149.70" x2="561.65" y2="180.90" stroke="#666" stroke-width="0.55" />
<line x1="559.75" y1="149.70" x2="563.55" y2="149.70" stroke="#505050" stroke-width="0.7" />
<line x1="559.75" y1="180.90" x2="563.55" y2="180.90" stroke="#505050" stroke-width="0.7" />
<rect x="564.30" y="99.20" width="5.3" height="102.10" fill="#cccccc" stroke="#4d4d4d" stroke-width="0.7"/>
<line x1="566.95" y1="90.30" x2="566.95" y2="107.60" stroke="#666" stroke-width="0.55" />
<line x1="565.05" y1="90.30" x2="568.85" y2="90.30" stroke="#505050" stroke-width="0.7" />
<line x1="565.05" y1="107.60" x2="568.85" y2="107.60" stroke="#505050" stroke-width="0.7" />
<rect x="569.60" y="29.20" width="5.3" height="172.10" fill="#878787" stroke="#4d4d4d" stroke-width="0.7"/>
<line x1="572.25" y1="25.30" x2="572.25" y2="33.10" stroke="#666" stroke-width="0.55" />
<line x1="570.35" y1="25.30" x2="574.15" y2="25.30" stroke="#505050" stroke-width="0.7" />
<line x1="570.35" y1="33.10" x2="574.15" y2="33.10" stroke="#505050" stroke-width="0.7" />
<rect x="569.00" y="71.7" width="6.50" height="3.1" fill="#fff"/>
<rect x="574.90" y="197.50" width="5.3" height="3.80" fill="#cccccc" stroke="#4d4d4d" stroke-width="0.7"/>
<line x1="577.55" y1="195.50" x2="577.55" y2="199.50" stroke="#666" stroke-width="0.55" />
<line x1="575.65" y1="195.50" x2="579.45" y2="195.50" stroke="#505050" stroke-width="0.7" />
<line x1="575.65" y1="199.50" x2="579.45" y2="199.50" stroke="#505050" stroke-width="0.7" />
<rect x="580.20" y="194.30" width="5.3" height="7.00" fill="#878787" stroke="#4d4d4d" stroke-width="0.7"/>
<line x1="582.85" y1="192.80" x2="582.85" y2="195.80" stroke="#666" stroke-width="0.55" />
<line x1="580.95" y1="192.80" x2="584.75" y2="192.80" stroke="#505050" stroke-width="0.7" />
<line x1="580.95" y1="195.80" x2="584.75" y2="195.80" stroke="#505050" stroke-width="0.7" />
<rect x="585.50" y="176.00" width="5.3" height="25.30" fill="#cccccc" stroke="#4d4d4d" stroke-width="0.7"/>
<line x1="588.15" y1="169.00" x2="588.15" y2="183.00" stroke="#666" stroke-width="0.55" />
<line x1="586.25" y1="169.00" x2="590.05" y2="169.00" stroke="#505050" stroke-width="0.7" />
<line x1="586.25" y1="183.00" x2="590.05" y2="183.00" stroke="#505050" stroke-width="0.7" />
<rect x="590.80" y="172.20" width="5.3" height="29.10" fill="#878787" stroke="#4d4d4d" stroke-width="0.7"/>
<line x1="593.45" y1="166.60" x2="593.45" y2="177.80" stroke="#666" stroke-width="0.55" />
<line x1="591.55" y1="166.60" x2="595.35" y2="166.60" stroke="#505050" stroke-width="0.7" />
<line x1="591.55" y1="177.80" x2="595.35" y2="177.80" stroke="#505050" stroke-width="0.7" />
<text x="548.00" y="215.00" font-size="7.5" text-anchor="middle" font-weight="normal" >10</text>
<text x="559.20" y="215.00" font-size="7.5" text-anchor="middle" font-weight="normal" >20</text>
<text x="570.00" y="215.00" font-size="7.5" text-anchor="middle" font-weight="normal" >40</text>
<text x="581.20" y="215.00" font-size="7.5" text-anchor="middle" font-weight="normal" >90</text>
<text x="592.90" y="215.00" font-size="7.5" text-anchor="middle" font-weight="normal" >150</text>
<line x1="569.50" y1="201.30" x2="569.50" y2="204.80" stroke="#2a2a2a" stroke-width="1.0" />
<text x="570.30" y="224.60" font-size="9.3" text-anchor="middle" font-weight="bold" >GAPDH</text>
<rect x="609.10" y="196.00" width="5.3" height="5.30" fill="#cccccc" stroke="#4d4d4d" stroke-width="0.7"/>
<line x1="611.75" y1="195.00" x2="611.75" y2="197.00" stroke="#666" stroke-width="0.55" />
<line x1="609.85" y1="195.00" x2="613.65" y2="195.00" stroke="#505050" stroke-width="0.7" />
<line x1="609.85" y1="197.00" x2="613.65" y2="197.00" stroke="#505050" stroke-width="0.7" />
<rect x="614.40" y="192.30" width="5.3" height="9.00" fill="#878787" stroke="#4d4d4d" stroke-width="0.7"/>
<line x1="617.05" y1="191.50" x2="617.05" y2="193.10" stroke="#666" stroke-width="0.55" />
<line x1="615.15" y1="191.50" x2="618.95" y2="191.50" stroke="#505050" stroke-width="0.7" />
<line x1="615.15" y1="193.10" x2="618.95" y2="193.10" stroke="#505050" stroke-width="0.7" />
<rect x="619.70" y="173.50" width="5.3" height="27.80" fill="#cccccc" stroke="#4d4d4d" stroke-width="0.7"/>
<line x1="622.35" y1="167.90" x2="622.35" y2="179.10" stroke="#666" stroke-width="0.55" />
<line x1="620.45" y1="167.90" x2="624.25" y2="167.90" stroke="#505050" stroke-width="0.7" />
<line x1="620.45" y1="179.10" x2="624.25" y2="179.10" stroke="#505050" stroke-width="0.7" />
<rect x="625.00" y="163.30" width="5.3" height="38.00" fill="#878787" stroke="#4d4d4d" stroke-width="0.7"/>
<line x1="627.65" y1="152.30" x2="627.65" y2="174.30" stroke="#666" stroke-width="0.55" />
<line x1="625.75" y1="152.30" x2="629.55" y2="152.30" stroke="#505050" stroke-width="0.7" />
<line x1="625.75" y1="174.30" x2="629.55" y2="174.30" stroke="#505050" stroke-width="0.7" />
<rect x="630.30" y="131.50" width="5.3" height="69.80" fill="#cccccc" stroke="#4d4d4d" stroke-width="0.7"/>
<line x1="632.95" y1="126.90" x2="632.95" y2="136.10" stroke="#666" stroke-width="0.55" />
<line x1="631.05" y1="126.90" x2="634.85" y2="126.90" stroke="#505050" stroke-width="0.7" />
<line x1="631.05" y1="136.10" x2="634.85" y2="136.10" stroke="#505050" stroke-width="0.7" />
<rect x="635.60" y="55.80" width="5.3" height="145.50" fill="#878787" stroke="#4d4d4d" stroke-width="0.7"/>
<line x1="638.25" y1="51.70" x2="638.25" y2="59.90" stroke="#666" stroke-width="0.55" />
<line x1="636.35" y1="51.70" x2="640.15" y2="51.70" stroke="#505050" stroke-width="0.7" />
<line x1="636.35" y1="59.90" x2="640.15" y2="59.90" stroke="#505050" stroke-width="0.7" />
<rect x="635.00" y="71.7" width="6.50" height="3.1" fill="#fff"/>
<rect x="640.90" y="198.50" width="5.3" height="2.80" fill="#cccccc" stroke="#4d4d4d" stroke-width="0.7"/>
<line x1="643.55" y1="197.80" x2="643.55" y2="199.20" stroke="#666" stroke-width="0.55" />
<line x1="641.65" y1="197.80" x2="645.45" y2="197.80" stroke="#505050" stroke-width="0.7" />
<line x1="641.65" y1="199.20" x2="645.45" y2="199.20" stroke="#505050" stroke-width="0.7" />
<rect x="646.20" y="193.80" width="5.3" height="7.50" fill="#878787" stroke="#4d4d4d" stroke-width="0.7"/>
<line x1="648.85" y1="191.50" x2="648.85" y2="196.10" stroke="#666" stroke-width="0.55" />
<line x1="646.95" y1="191.50" x2="650.75" y2="191.50" stroke="#505050" stroke-width="0.7" />
<line x1="646.95" y1="196.10" x2="650.75" y2="196.10" stroke="#505050" stroke-width="0.7" />
<rect x="651.50" y="181.60" width="5.3" height="19.70" fill="#cccccc" stroke="#4d4d4d" stroke-width="0.7"/>
<line x1="654.15" y1="178.80" x2="654.15" y2="184.40" stroke="#666" stroke-width="0.55" />
<line x1="652.25" y1="178.80" x2="656.05" y2="178.80" stroke="#505050" stroke-width="0.7" />
<line x1="652.25" y1="184.40" x2="656.05" y2="184.40" stroke="#505050" stroke-width="0.7" />
<rect x="656.80" y="174.00" width="5.3" height="27.30" fill="#878787" stroke="#4d4d4d" stroke-width="0.7"/>
<line x1="659.45" y1="169.80" x2="659.45" y2="178.20" stroke="#666" stroke-width="0.55" />
<line x1="657.55" y1="169.80" x2="661.35" y2="169.80" stroke="#505050" stroke-width="0.7" />
<line x1="657.55" y1="178.20" x2="661.35" y2="178.20" stroke="#505050" stroke-width="0.7" />
<text x="614.00" y="215.00" font-size="7.5" text-anchor="middle" font-weight="normal" >10</text>
<text x="625.20" y="215.00" font-size="7.5" text-anchor="middle" font-weight="normal" >20</text>
<text x="636.00" y="215.00" font-size="7.5" text-anchor="middle" font-weight="normal" >40</text>
<text x="647.20" y="215.00" font-size="7.5" text-anchor="middle" font-weight="normal" >90</text>
<text x="658.90" y="215.00" font-size="7.5" text-anchor="middle" font-weight="normal" >150</text>
<line x1="635.50" y1="201.30" x2="635.50" y2="204.80" stroke="#2a2a2a" stroke-width="1.0" />
<text x="636.30" y="224.60" font-size="9.3" text-anchor="middle" font-weight="bold" >16S+PGK+GAPDH</text>
<text x="537.00" y="237.90" font-size="12" text-anchor="middle" font-weight="normal" class="hv">Time/min</text>
</svg>
</body></html>
